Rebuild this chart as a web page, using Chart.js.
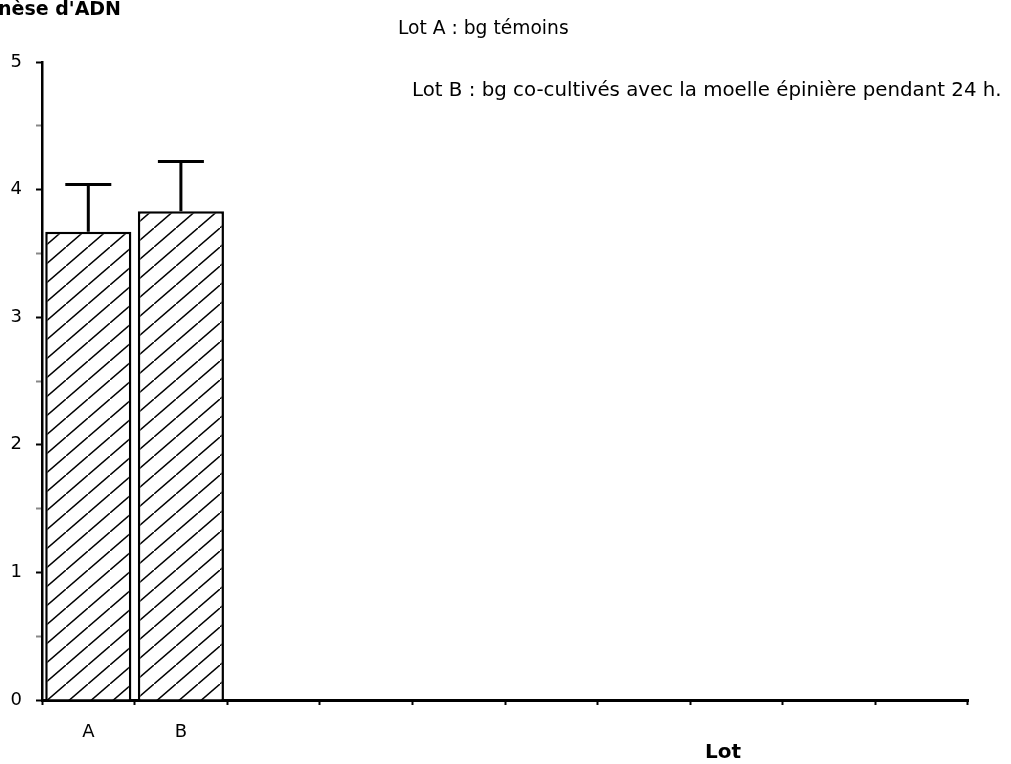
<!DOCTYPE html>
<html>
<head>
<meta charset="utf-8">
<script src="https://cdn.jsdelivr.net/npm/chart.js@4/dist/chart.umd.min.js"></script>
<style>
  html, body { margin: 0; padding: 0; background: #fff; }
  #wrap { width: 1011px; height: 764px; position: relative; }
</style>
</head>
<body>
<div id="wrap"><canvas id="chart" width="1011" height="764"></canvas></div>
<script>
// Data
const lots = ['A', 'B', '', '', '', '', '', '', '', ''];
const synthese = [3.67, 3.83, null, null, null, null, null, null, null, null];
const erreurs = [0.37, 0.39, null, null, null, null, null, null, null, null];
const yTicks = [0, 1, 2, 3, 4, 5];
const legendLines = ['Lot A : bg témoins', 'Lot B : bg co-cultivés avec la moelle épinière pendant 24 h.'];

const FONT = '"DejaVu Sans", "Liberation Sans", Arial, sans-serif';

// diagonal hatch fill
function makeHatch() {
    const w = 22, h = 19;
    const c = document.createElement('canvas');
    c.width = w;
    c.height = h;
    const g = c.getContext('2d');
    g.fillStyle = '#fff';
    g.fillRect(0, 0, w, h);
    g.strokeStyle = '#000';
    g.lineWidth = 1.5;
    g.beginPath();
    g.moveTo(-w, 2 * h);
    g.lineTo(2 * w, -h);
    g.stroke();
    return document.getElementById('chart').getContext('2d').createPattern(c, 'repeat');
}

const errorBars = {
    id: 'errorBars',
    afterDatasetsDraw(chart) {
        const ctx = chart.ctx;
        const meta = chart.getDatasetMeta(0);
        const y = chart.scales.y;
        ctx.save();
        ctx.strokeStyle = '#000';
        ctx.lineWidth = 3;
        meta.data.forEach((bar, i) => {
            if (synthese[i] == null || erreurs[i] == null) return;
            const top = y.getPixelForValue(synthese[i] + erreurs[i]);
            const base = y.getPixelForValue(synthese[i]);
            ctx.beginPath();
            ctx.moveTo(bar.x, base);
            ctx.lineTo(bar.x, top);
            ctx.moveTo(bar.x - 23, top);
            ctx.lineTo(bar.x + 23, top);
            ctx.stroke();
        });
        ctx.restore();
    }
};

const texts = {
    id: 'texts',
    afterDraw(chart) {
        const ctx = chart.ctx;
        ctx.save();
        ctx.fillStyle = '#000';
        ctx.textBaseline = 'middle';
        ctx.textAlign = 'left';
        ctx.font = 'bold 19px ' + FONT;
        ctx.fillText("nèse d'ADN", -2, 10);
        ctx.font = '18.7px ' + FONT;
        ctx.fillText(legendLines[0], 398, 29);
        ctx.font = '19.8px ' + FONT;
        ctx.fillText(legendLines[1], 412, 91);
        ctx.font = 'bold 20px ' + FONT;
        ctx.textAlign = 'center';
        ctx.fillText('Lot', 723, 753);
        ctx.restore();
    }
};

new Chart(document.getElementById('chart'), {
    type: 'bar',
    data: {
        labels: lots,
        datasets: [{
            data: synthese,
            backgroundColor: makeHatch(),
            borderColor: '#000',
            borderWidth: 2.5,
            barPercentage: 0.93,
            categoryPercentage: 1
        }]
    },
    options: {
        responsive: false,
        animation: false,
        layout: { padding: { top: 62, right: 43, bottom: 0, left: 0 } },
        plugins: {
            legend: { display: false },
            tooltip: { enabled: false }
        },
        scales: {
            x: {
                offset: true,
                grid: {
                    offset: true,
                    drawOnChartArea: false,
                    drawTicks: true,
                    tickLength: 5,
                    tickWidth: 2,
                    tickColor: '#000'
                },
                border: { color: '#000', width: 3 },
                ticks: {
                    color: '#000',
                    font: { family: FONT, size: 18 },
                    padding: 17,
                    maxRotation: 0,
                    autoSkip: false
                },
                afterFit(scale) { scale.height = 64; }
            },
            y: {
                min: 0,
                max: 5,
                grid: {
                    drawOnChartArea: false,
                    tickLength: 6,
                    tickWidth: 2,
                    tickColor: ctx => Number.isInteger(ctx.tick.value) ? '#000' : '#888'
                },
                border: { color: '#000', width: 2.5 },
                ticks: {
                    stepSize: 0.5,
                    color: '#000',
                    font: { family: FONT, size: 18 },
                    padding: 14,
                    callback: v => yTicks.includes(v) ? v : ''
                },
                afterFit(scale) { scale.width = 42; }
            }
        }
    },
    plugins: [errorBars, texts]
});
</script>
</body>
</html>
